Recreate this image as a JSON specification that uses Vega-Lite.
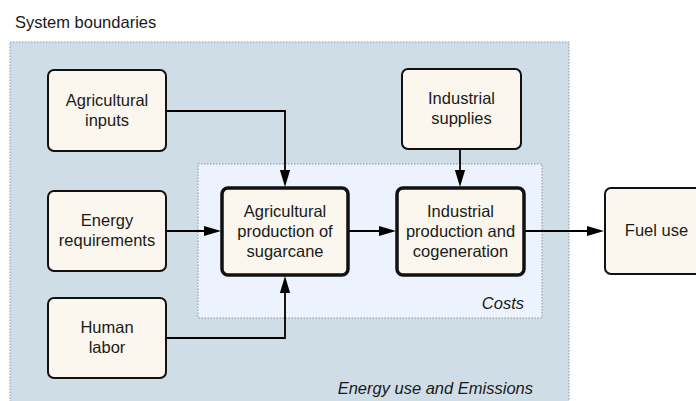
{
  "$schema": "https://vega.github.io/schema/vega-lite/v6.json",
  "width": 696,
  "height": 401,
  "autosize": {"type": "fit", "contains": "padding"},
  "padding": 0,
  "background": "white",
  "view": {"stroke": null},
  "config": {"font": "Liberation Sans"},
  "datasets": {
    "regions": [
      {"name": "Energy use and Emissions", "kind": "boundary", "x1": 10, "x2": 569, "y1": 42, "y2": 410},
      {"name": "Costs", "kind": "costs", "x1": 198, "x2": 542, "y1": 164, "y2": 318}
    ],
    "titleLabel": [
      {"text": "System boundaries", "x": 15, "y": 23}
    ],
    "regionLabels": [
      {"text": "Costs", "x": 524, "y": 304},
      {"text": "Energy use and Emissions", "x": 533, "y": 389}
    ],
    "boxes": [
      {"label": "Agricultural\ninputs", "kind": "input", "x1": 48, "x2": 166, "y1": 70, "y2": 151},
      {"label": "Energy\nrequirements", "kind": "input", "x1": 48, "x2": 166, "y1": 191, "y2": 271},
      {"label": "Human\nlabor", "kind": "input", "x1": 48, "x2": 166, "y1": 298, "y2": 378},
      {"label": "Industrial\nsupplies", "kind": "input", "x1": 402, "x2": 521, "y1": 69, "y2": 149},
      {"label": "Agricultural\nproduction of\nsugarcane", "kind": "process", "x1": 222, "x2": 348, "y1": 188, "y2": 275},
      {"label": "Industrial\nproduction and\ncogeneration", "kind": "process", "x1": 397, "x2": 524, "y1": 188, "y2": 275},
      {"label": "Fuel use", "kind": "input", "x1": 605, "x2": 708, "y1": 188, "y2": 274}
    ],
    "arrows": [
      {"arrow": "a1", "order": 1, "x": 166, "y": 111},
      {"arrow": "a1", "order": 2, "x": 285, "y": 111},
      {"arrow": "a1", "order": 3, "x": 285, "y": 180},
      {"arrow": "a2", "order": 1, "x": 166, "y": 231},
      {"arrow": "a2", "order": 2, "x": 214, "y": 231},
      {"arrow": "a3", "order": 1, "x": 166, "y": 338},
      {"arrow": "a3", "order": 2, "x": 285, "y": 338},
      {"arrow": "a3", "order": 3, "x": 285, "y": 283},
      {"arrow": "a4", "order": 1, "x": 460, "y": 149},
      {"arrow": "a4", "order": 2, "x": 460, "y": 180},
      {"arrow": "a5", "order": 1, "x": 348, "y": 231},
      {"arrow": "a5", "order": 2, "x": 389, "y": 231},
      {"arrow": "a6", "order": 1, "x": 524, "y": 231},
      {"arrow": "a6", "order": 2, "x": 597, "y": 231}
    ],
    "heads": [
      {"arrow": "a1", "dir": "down", "x": 285, "y": 187},
      {"arrow": "a2", "dir": "right", "x": 221, "y": 231},
      {"arrow": "a3", "dir": "up", "x": 285, "y": 276},
      {"arrow": "a4", "dir": "down", "x": 460, "y": 187},
      {"arrow": "a5", "dir": "right", "x": 396, "y": 231},
      {"arrow": "a6", "dir": "right", "x": 604, "y": 231}
    ]
  },
  "encoding": {
    "x": {"type": "quantitative", "scale": {"domain": [0, 696], "nice": false, "zero": false}, "axis": null},
    "y": {"type": "quantitative", "scale": {"domain": [0, 401], "nice": false, "zero": false, "reverse": true}, "axis": null}
  },
  "layer": [
    {
      "data": {"name": "regions"},
      "mark": {"type": "rect", "clip": true, "strokeDash": [1.5, 1.5], "strokeWidth": 1, "stroke": "#8f9599"},
      "encoding": {
        "x": {"field": "x1", "type": "quantitative"},
        "x2": {"field": "x2"},
        "y": {"field": "y1", "type": "quantitative"},
        "y2": {"field": "y2"},
        "fill": {"field": "kind", "type": "nominal", "scale": {"domain": ["boundary", "costs"], "range": ["#cfdee6", "#ecf3fc"]}, "legend": null}
      }
    },
    {
      "data": {"name": "titleLabel"},
      "mark": {"type": "text", "fontSize": 16.5, "baseline": "middle", "align": "left", "color": "#1a1a1a"},
      "encoding": {
        "x": {"field": "x", "type": "quantitative"},
        "y": {"field": "y", "type": "quantitative"},
        "text": {"field": "text"}
      }
    },
    {
      "data": {"name": "regionLabels"},
      "mark": {"type": "text", "fontSize": 16.5, "baseline": "middle", "align": "right", "fontStyle": "italic", "color": "#1a1a1a"},
      "encoding": {
        "x": {"field": "x", "type": "quantitative"},
        "y": {"field": "y", "type": "quantitative"},
        "text": {"field": "text"}
      }
    },
    {
      "data": {"name": "arrows"},
      "mark": {"type": "line", "color": "#000000", "strokeWidth": 1.8, "strokeCap": "butt", "strokeJoin": "miter"},
      "encoding": {
        "x": {"field": "x", "type": "quantitative"},
        "y": {"field": "y", "type": "quantitative"},
        "detail": {"field": "arrow"},
        "order": {"field": "order"}
      }
    },
    {
      "data": {"name": "boxes"},
      "mark": {"type": "rect", "clip": true, "cornerRadius": 6, "fill": "#fbf7ee", "stroke": "#111111"},
      "encoding": {
        "x": {"field": "x1", "type": "quantitative"},
        "x2": {"field": "x2"},
        "y": {"field": "y1", "type": "quantitative"},
        "y2": {"field": "y2"},
        "strokeWidth": {"field": "kind", "type": "nominal", "scale": {"domain": ["input", "process"], "range": [2, 3.5]}, "legend": null}
      }
    },
    {
      "data": {"name": "boxes"},
      "transform": [
        {"calculate": "(datum.x1 + datum.x2) / 2", "as": "cx"},
        {"calculate": "(datum.y1 + datum.y2) / 2 - (length(split(datum.label, '\\n')) - 1) * 10", "as": "cy"}
      ],
      "mark": {"type": "text", "fontSize": 16.5, "lineHeight": 20, "lineBreak": "\n", "align": "center", "baseline": "middle", "color": "#1a1a1a", "clip": true},
      "encoding": {
        "x": {"field": "cx", "type": "quantitative"},
        "y": {"field": "cy", "type": "quantitative"},
        "text": {"field": "label"}
      }
    },
    {
      "data": {"name": "heads"},
      "mark": {"type": "point", "filled": true, "opacity": 1, "color": "#000000", "strokeWidth": 0},
      "encoding": {
        "x": {"field": "x", "type": "quantitative"},
        "y": {"field": "y", "type": "quantitative"},
        "shape": {"field": "dir", "type": "nominal", "scale": {"domain": ["right", "down", "up"], "range": ["M0,0L-2,-0.6L-2,0.6Z", "M0,0L-0.6,-2L0.6,-2Z", "M0,0L-0.6,2L0.6,2Z"]}, "legend": null},
        "size": {"value": 289}
      }
    }
  ]
}
